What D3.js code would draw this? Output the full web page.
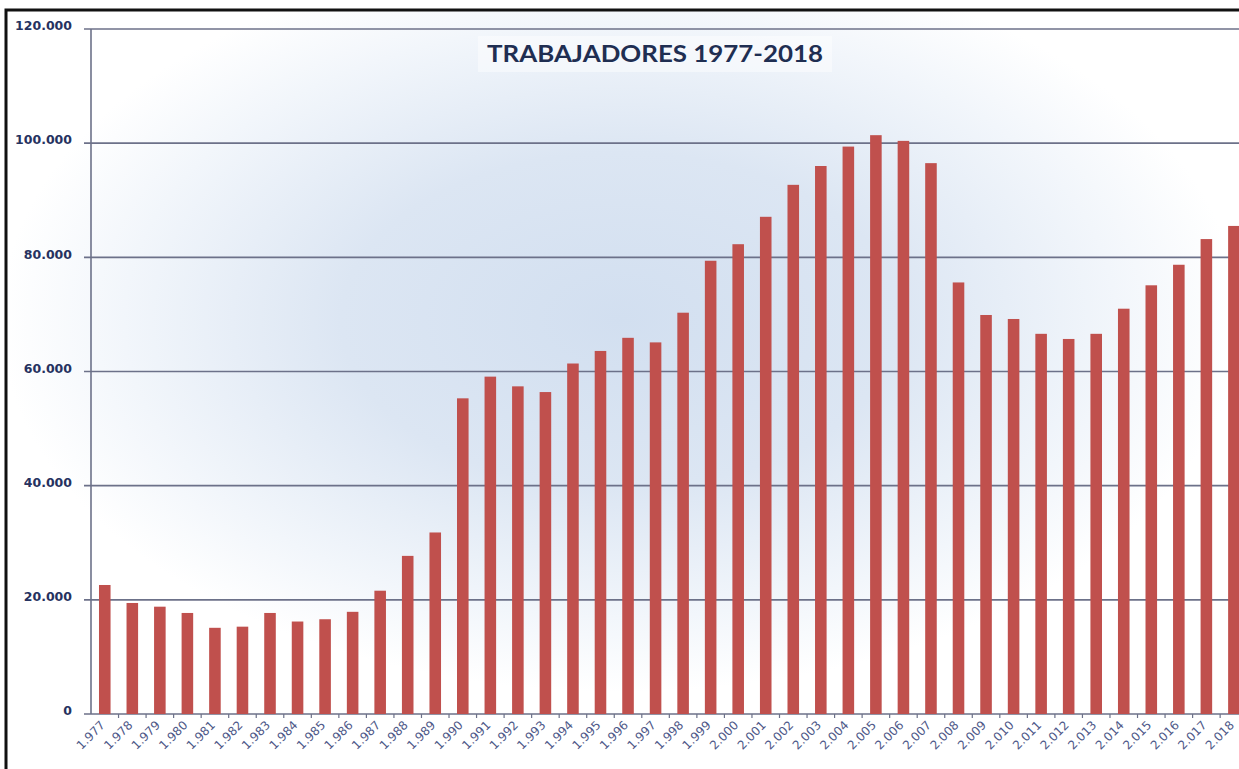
<!DOCTYPE html>
<html>
<head>
<meta charset="utf-8">
<script src="https://cdn.jsdelivr.net/npm/d3@7"></script>
<style>
    html, body { margin: 0; padding: 0; background: #ffffff; overflow: hidden; }
</style>
</head>
<body>
<div id="chart"></div>
<script>
// Datos: trabajadores por año
const years = [1977, 1978, 1979, 1980, 1981, 1982, 1983, 1984, 1985, 1986,
    1987, 1988, 1989, 1990, 1991, 1992, 1993, 1994, 1995, 1996,
    1997, 1998, 1999, 2000, 2001, 2002, 2003, 2004, 2005, 2006,
    2007, 2008, 2009, 2010, 2011, 2012, 2013, 2014, 2015, 2016,
    2017, 2018];
const workers = [22600, 19450, 18800, 17700, 15100, 15300, 17700, 16200, 16600, 17900,
    21600, 27700, 31800, 55300, 59100, 57400, 56400, 61400, 63600, 65900,
    65100, 70300, 79400, 82300, 87100, 92700, 96000, 99400, 101400, 100400,
    96500, 75600, 69900, 69200, 66600, 65700, 66600, 71000, 75100, 78700,
    83200, 85500];
const yTicks = [0, 20000, 40000, 60000, 80000, 100000, 120000];
const title = 'TRABAJADORES 1977-2018';

const width = 1239;
const height = 769;
const margin = { left: 91, top: 29 };
const plotBottom = 714;
const plotRight = 91 + 42 * 27.54;

// Formato con punto como separador de miles
const fmt = d3.formatLocale({ decimal: ',', thousands: '.', grouping: [3], currency: ['', '€'] }).format(',d');

const svg = d3.select('#chart').append('svg')
    .attr('width', width)
    .attr('height', height);

const defs = svg.append('defs');
const grad = defs.append('radialGradient')
    .attr('id', 'bg')
    .attr('gradientUnits', 'userSpaceOnUse')
    .attr('cx', 620).attr('cy', 320).attr('r', 620)
    .attr('gradientTransform', 'translate(620,320) scale(1,0.6) translate(-620,-320)');
grad.append('stop').attr('offset', 0).attr('stop-color', '#d2dff0');
grad.append('stop').attr('offset', 0.45).attr('stop-color', '#dce6f3');
grad.append('stop').attr('offset', 0.8).attr('stop-color', '#f2f6fb');
grad.append('stop').attr('offset', 1).attr('stop-color', '#ffffff');

// Marco exterior con fondo degradado
svg.append('rect')
    .attr('x', 6).attr('y', 10)
    .attr('width', width + 20).attr('height', height + 20)
    .attr('fill', 'url(#bg)')
    .attr('stroke', '#111111')
    .attr('stroke-width', 3);

const x = d3.scaleBand()
    .domain(years)
    .range([margin.left, plotRight])
    .paddingInner(0.58)
    .paddingOuter(0.29);

const y = d3.scaleLinear()
    .domain([0, 120000])
    .range([plotBottom, margin.top]);

// Líneas de cuadrícula
svg.append('g')
    .selectAll('line')
    .data(yTicks)
    .enter().append('line')
    .attr('x1', margin.left - 7)
    .attr('x2', width + 10)
    .attr('y1', d => y(d))
    .attr('y2', d => y(d))
    .attr('stroke', '#6c7189')
    .attr('stroke-width', 1.6);

// Etiquetas del eje Y
svg.append('g')
    .selectAll('text')
    .data(yTicks)
    .enter().append('text')
    .attr('x', 72)
    .attr('y', d => y(d))
    .attr('dy', '0.1em')
    .attr('text-anchor', 'end')
    .attr('font-family', 'DejaVu Sans, sans-serif')
    .attr('font-weight', 'bold')
    .attr('font-size', 12.5)
    .attr('fill', '#263260')
    .text(d => fmt(d));

// Eje Y
svg.append('line')
    .attr('x1', margin.left).attr('x2', margin.left)
    .attr('y1', margin.top).attr('y2', plotBottom)
    .attr('stroke', '#6c7189')
    .attr('stroke-width', 1.6);

// Barras
svg.append('g')
    .selectAll('rect')
    .data(years)
    .enter().append('rect')
    .attr('x', d => x(d))
    .attr('y', (d, i) => y(workers[i]))
    .attr('width', x.bandwidth())
    .attr('height', (d, i) => plotBottom - y(workers[i]))
    .attr('fill', '#c0504d');

// Marcas del eje X
svg.append('g')
    .selectAll('line')
    .data(years.slice(1))
    .enter().append('line')
    .attr('x1', d => x(d) - x.step() * x.paddingInner() / 2)
    .attr('x2', d => x(d) - x.step() * x.paddingInner() / 2)
    .attr('y1', plotBottom)
    .attr('y2', plotBottom + 4)
    .attr('stroke', '#6c7189')
    .attr('stroke-width', 1.2);

// Etiquetas del eje X
svg.append('g')
    .selectAll('text')
    .data(years)
    .enter().append('text')
    .attr('transform', d => `translate(${x(d) + x.bandwidth() / 2 - 2},${plotBottom + 9}) rotate(-45)`)
    .attr('text-anchor', 'end')
    .attr('dy', '0.35em')
    .attr('font-family', 'DejaVu Sans, sans-serif')
    .attr('font-size', 12)
    .attr('fill', '#4e5888')
    .text(d => fmt(d));

// Título
svg.append('rect')
    .attr('x', 478).attr('y', 36)
    .attr('width', 354).attr('height', 36)
    .attr('fill', '#ffffff')
    .attr('opacity', 0.45);

svg.append('text')
    .attr('x', 655)
    .attr('y', 62)
    .attr('text-anchor', 'middle')
    .attr('font-family', 'Lato, Open Sans, sans-serif')
    .attr('font-weight', 'bold')
    .attr('font-size', 23)
    .attr('fill', '#1f2e52')
    .attr('textLength', 336)
    .attr('lengthAdjust', 'spacingAndGlyphs')
    .text(title);
</script>
</body>
</html>
